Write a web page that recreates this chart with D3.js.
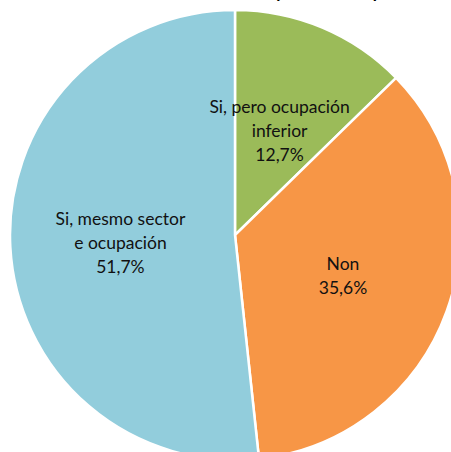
<!DOCTYPE html>
<html><head><meta charset="utf-8">
<script src="https://cdn.jsdelivr.net/npm/d3@7"></script>
<style>html,body{margin:0;padding:0;background:#fff;overflow:hidden}</style>
</head><body>
<svg id="c" width="451" height="452"></svg>
<script>
const categories = ["Si, pero ocupación inferior", "Non", "Si, mesmo sector e ocupación"];
const values = [12.7, 35.6, 51.7];
const labelLines = [["Si, pero ocupación", "inferior", "12,7%"], ["Non", "35,6%"], ["Si, mesmo sector", "e ocupación", "51,7%"]];
const colors = ["#9BBB59", "#F79646", "#92CDDC"];
const title = "Relación do traballo actual co posto desempeñado";

const svg = d3.select("#c");
const cx = 235, cy = 235, R = 225;

svg.append("text").attr("x", 240).attr("y", -2)
  .attr("text-anchor", "middle").attr("font-family", "Lato, 'Open Sans', sans-serif")
  .attr("font-weight", "bold").attr("font-size", 17).attr("fill", "#000").text(title);

const pie = d3.pie().sort(null).value(d => d)(values);
const arc = d3.arc().innerRadius(0).outerRadius(R);
const labelArc = d3.arc().innerRadius(0).outerRadius(R * 1.02);
const g = svg.append("g").attr("transform", `translate(${cx},${cy})`);
g.selectAll("path").data(pie).join("path")
  .attr("d", arc).attr("fill", (d, i) => colors[i])
  .attr("stroke", "#fff").attr("stroke-width", 2.5);

const lh = 24;
g.selectAll("text.lbl").data(pie).join("text").attr("class", "lbl")
  .attr("font-family", "Lato, 'Open Sans', sans-serif").attr("font-size", 17.5)
  .attr("fill", "#111").attr("text-anchor", "middle")
  .each(function(d, i) {
    const [x, y] = labelArc.centroid(d);
    const lines = labelLines[i];
    const t = d3.select(this);
    lines.forEach((ln, k) => {
      t.append("tspan").attr("x", x)
        .attr("y", y + (k - (lines.length - 1) / 2) * lh + 8).text(ln);
    });
  });
</script>
</body></html>
